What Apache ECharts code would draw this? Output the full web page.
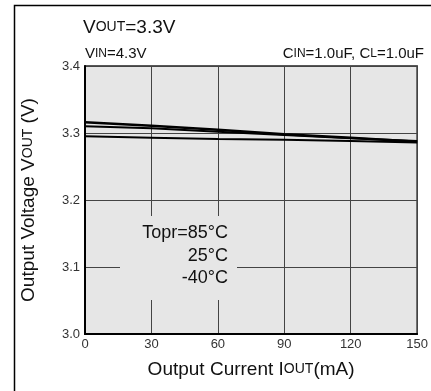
<!DOCTYPE html>
<html><head><meta charset="utf-8">
<script src="https://cdn.jsdelivr.net/npm/echarts@6/dist/echarts.min.js"></script>
<style>html,body{margin:0;padding:0;background:#fff}#c{width:431px;height:391px}</style>
</head><body><div id="c"></div>
<script>
var currents = [0, 30, 60, 90, 120, 150];
var v85 = [3.316, 3.311, 3.305, 3.298, 3.293, 3.287];
var v25 = [3.310, 3.307, 3.302, 3.297, 3.292, 3.288];
var vM40 = [3.295, 3.293, 3.291, 3.290, 3.288, 3.286];
var xTicks = [0, 30, 60, 90, 120, 150];
var yTicks = [3.0, 3.1, 3.2, 3.3, 3.4];

function pairs(xs, ys){ return xs.map(function(x,i){return [x, ys[i]];}); }
var FONT = 'Liberation Sans, Arial, sans-serif';
var chart = echarts.init(document.getElementById('c'));
var lineStyle = function(w){ return {color:'#000', width:w}; };
chart.setOption({
  animation:false,
  backgroundColor:'#fff',
  grid:{left:85, right:7, top:66, bottom:57, show:true, backgroundColor:'#e6e6e6', borderColor:'#222', borderWidth:1.5},
  xAxis:{type:'value', min:0, max:150, interval:30,
    axisLine:{show:true, lineStyle:{color:'#000', width:2}},
    axisTick:{show:false},
    splitLine:{show:true, lineStyle:{color:'#444', width:1}},
    axisLabel:{color:'#333', fontSize:13, fontFamily:FONT, margin:4},
    name:'{a|Output Current I}{b|OUT}{a|(mA)}', nameLocation:'middle', nameGap:26,
    nameTextStyle:{rich:{a:{fontSize:19, fontFamily:FONT, color:'#111'}, b:{fontSize:14, fontFamily:FONT, color:'#111'}}}
  },
  yAxis:{type:'value', min:3.0, max:3.4, interval:0.1,
    axisLine:{show:true, lineStyle:{color:'#000', width:2}},
    axisTick:{show:false},
    splitLine:{show:true, lineStyle:{color:'#444', width:1}},
    axisLabel:{color:'#333', fontSize:13, fontFamily:FONT, margin:5, formatter:function(v){return v.toFixed(1);}},
    name:'{a|Output Voltage V}{b|OUT}{a| (V)}', nameLocation:'middle', nameGap:47, nameRotate:90,
    nameTextStyle:{rich:{a:{fontSize:19, fontFamily:FONT, color:'#111'}, b:{fontSize:14, fontFamily:FONT, color:'#111'}}}
  },
  series:[
    {type:'line', data:pairs(currents, vM40), symbol:'none', lineStyle:lineStyle(2), z:3},
    {type:'line', data:pairs(currents, v25), symbol:'none', lineStyle:lineStyle(2), z:3},
    {type:'line', data:pairs(currents, v85), symbol:'none', lineStyle:lineStyle(2.5), z:3}
  ],
  graphic:[
    {type:'rect', left:12, top:3, shape:{width:440, height:420}, style:{fill:'none', stroke:'#000', lineWidth:1.5}, silent:true},
    {type:'text', left:83, top:18, style:{text:'{a|V}{b|OUT}{a|=3.3V}', rich:{a:{fontSize:19, fontFamily:FONT, fill:'#111'}, b:{fontSize:14, fontFamily:FONT, fill:'#111'}}}},
    {type:'text', left:85, top:46, style:{text:'{a|V}{b|IN}{a|=4.3V}', rich:{a:{fontSize:15, fontFamily:FONT, fill:'#111'}, b:{fontSize:12, fontFamily:FONT, fill:'#111'}}}},
    {type:'text', right:7, top:46, style:{text:'{a|C}{b|IN}{a|=1.0uF, C}{b|L}{a|=1.0uF}', rich:{a:{fontSize:15, fontFamily:FONT, fill:'#111'}, b:{fontSize:12, fontFamily:FONT, fill:'#111'}}}},
    {type:'rect', left:120, top:216, shape:{width:117, height:84}, style:{fill:'#e6e6e6'}, z:10},
    {type:'text', right:431-228, top:224, z:11, style:{text:'Topr=85°C', fontSize:18, fontFamily:FONT, fill:'#111', textAlign:'right'}},
    {type:'text', right:431-228, top:247, z:11, style:{text:'25°C', fontSize:18, fontFamily:FONT, fill:'#111', textAlign:'right'}},
    {type:'text', right:431-228, top:269, z:11, style:{text:'-40°C', fontSize:18, fontFamily:FONT, fill:'#111', textAlign:'right'}}
  ]
});
</script></body></html>
